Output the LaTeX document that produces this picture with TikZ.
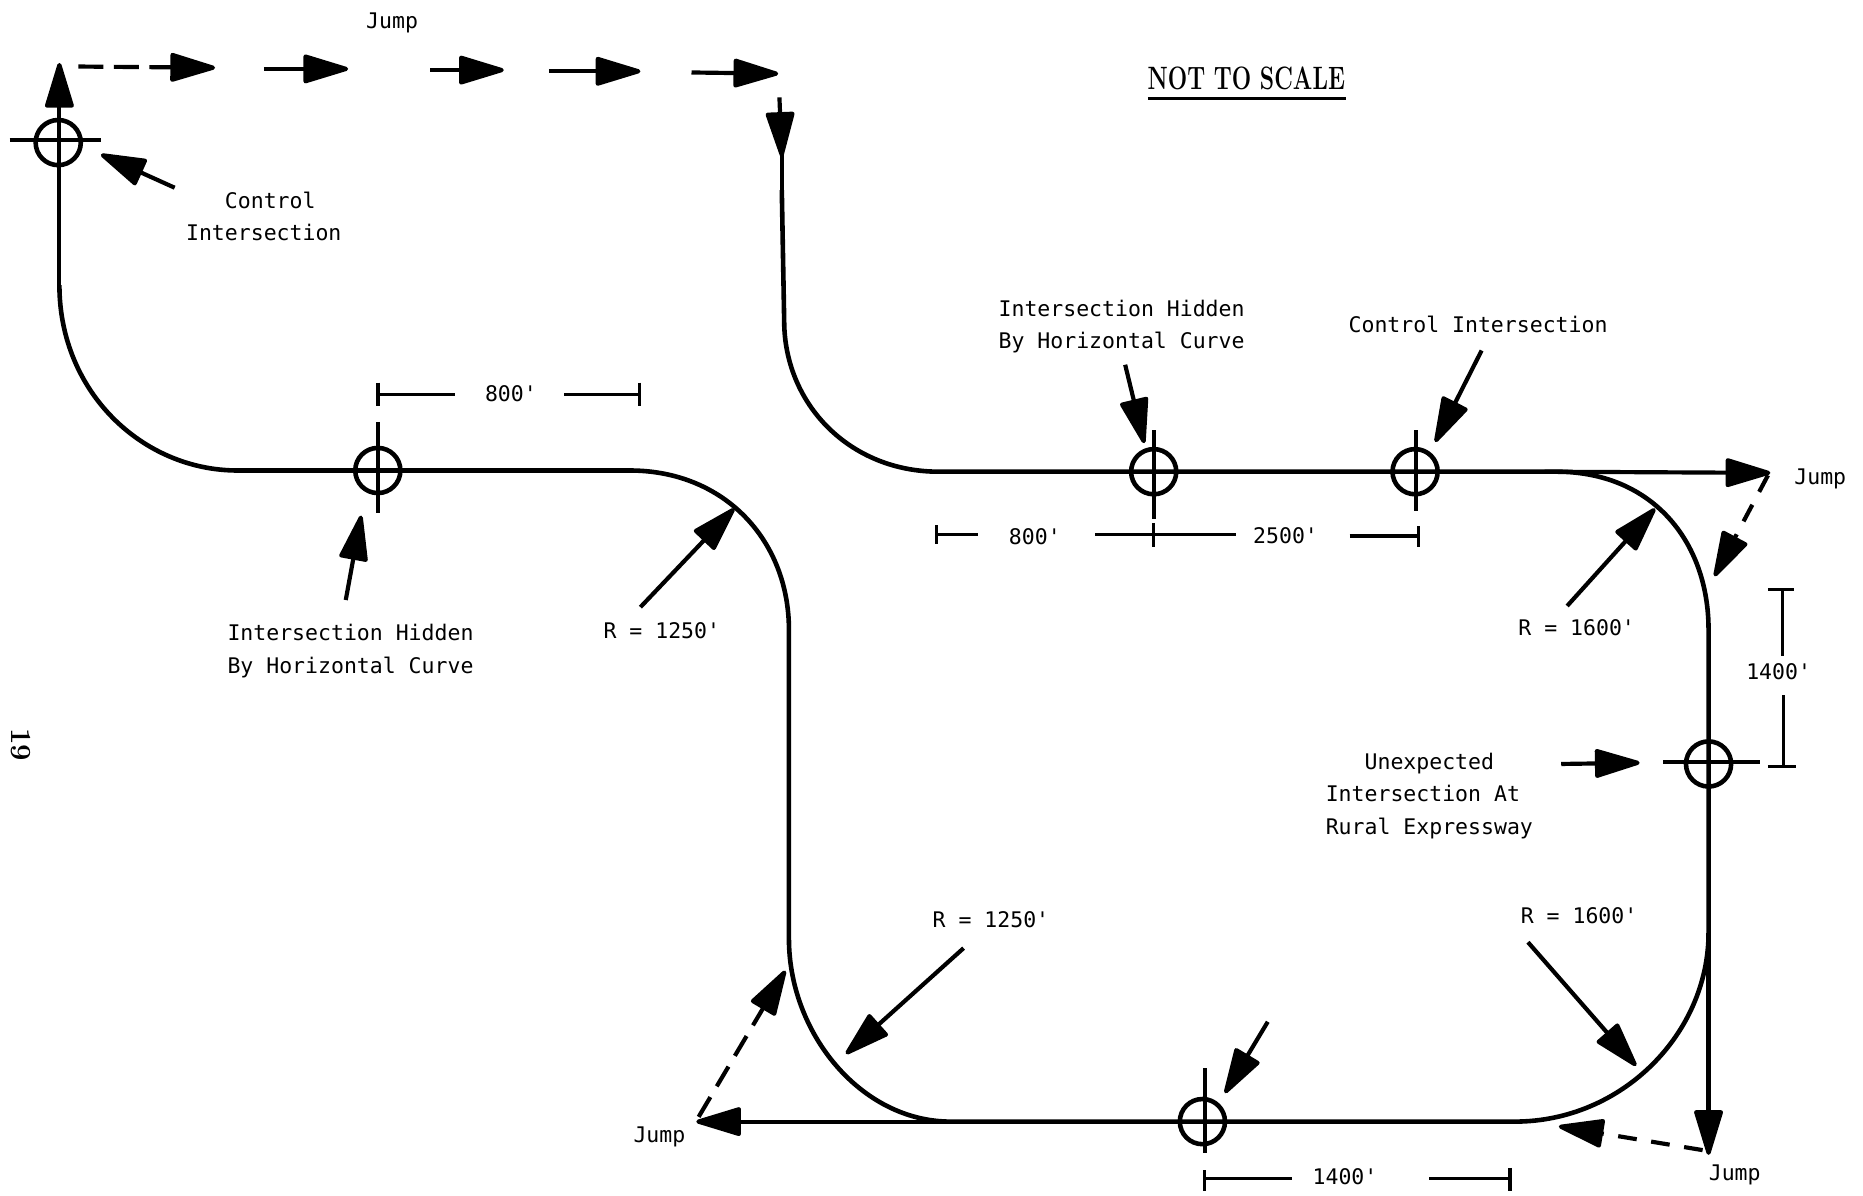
\documentclass[tikz,border=0pt]{standalone}
\usepackage{fontspec}
\setmonofont{DejaVu Sans Mono}
\usetikzlibrary{arrows.meta}
\newlength{\unitlen}
\setlength{\unitlen}{0.02cm}
\tikzset{
	road/.style={line width=2.2pt},
	ptr/.style={line width=2pt, -{Triangle[round,length=24pt,width=14pt]}},
	jumpline/.style={ptr, dashed, dash pattern=on 9pt off 7pt},
	dimline/.style={line width=1.6pt},
	tick/.style={line width=1.9pt},
	xing/.style={circle, draw, line width=2.2pt, minimum size=38\unitlen, inner sep=0pt},
	lab/.style={font=\ttfamily\fontsize{10.3}{10.3}\selectfont, align=center, inner sep=0pt},
}
\begin{document}
\begin{tikzpicture}[x=0.02cm, y=-0.02cm]
	\useasboundingbox (0,0) rectangle (1568,1006);
	% crossings
	\node[xing] (ctrlA) at (49,120) {};
	\node[xing] (hidA) at (318,396) {};
	\node[xing] (hidB) at (971,397) {};
	\node[xing] (ctrlB) at (1191,397) {};
	\node[xing] (unexp) at (1438,643) {};
	\node[xing] (south) at (1012,944) {};
	\draw[tick] (8,118) -- (85,118);
	\draw[tick] (318,355) -- (318,432);
	\draw[tick] (971,362) -- (971,437);
	\draw[tick] (1192,362) -- (1192,430);
	\draw[tick] (1400,641) -- (1481,641);
	\draw[tick] (1014,899) -- (1014,970);
	% road
	\draw[road] (50,240) .. controls (50,330) and (120,396) .. (200,396) -- (530,396) .. controls (610,396) and (664,455) .. (664,530) -- (664,790) .. controls (664,870) and (725,944) .. (800,944) -- (1275,944) .. controls (1365,944) and (1438,870) .. (1438,785) -- (1438,530) .. controls (1438,455) and (1390,397) .. (1310,397) -- (790,397) .. controls (715,397) and (660,340) .. (660,270) -- (658,160);
	\draw[ptr] (50,240) -- (50,53);
	\draw[ptr] (656,82) -- (658,132);
	\draw[road] (658,125) -- (658,160);
	% jump along the top
	\draw[ptr, dashed, dash pattern=on 12pt off 5pt] (66,56) -- (181,57);
	\draw[ptr] (222,58) -- (293,58);
	\draw[ptr] (362,59) -- (424,59);
	\draw[ptr] (462,60) -- (539,60);
	\draw[ptr] (582,61) -- (655,62);
	% jumps
	\draw[ptr] (1300,397) -- (1490,398);
	\draw[jumpline] (1488,400) -- (1443,485);
	\draw[ptr] (1438,785) -- (1438,972);
	\draw[jumpline] (1433,968) -- (1312,948);
	\draw[ptr] (800,944) -- (586,944);
	\draw[jumpline, dash pattern=on 11pt off 6pt] (588,940) -- (661,817);
	% pointers
	\draw[ptr] (147,158) -- (85,130);
	\draw[ptr] (291,505) -- (304,434);
	\draw[ptr] (539,511) -- (618,428);
	\draw[ptr] (947,307) -- (963,373);
	\draw[ptr] (1247,295) -- (1208,372);
	\draw[ptr] (1319,510) -- (1393,428);
	\draw[ptr] (1314,643) -- (1380,642);
	\draw[ptr] (811,798) -- (712,887);
	\draw[ptr] (1067,860) -- (1031,920);
	\draw[ptr] (1286,793) -- (1377,897);
	% dimensions
	\draw[dimline] (318,322) -- (318,342) (318,332) -- (383,332) (475,332) -- (538,332) (538,322) -- (538,342);
	\draw[dimline] (788,442) -- (788,458) (788,450) -- (823,450) (922,450) -- (1040,450) (971,440) -- (971,460) (1136,451) -- (1194,451) (1194,443) -- (1194,460);
	\draw[dimline] (1014,985) -- (1014,1002) (1014,992) -- (1087,992) (1203,992) -- (1271,992) (1271,983) -- (1271,1002);
	\draw[dimline] (1488,496) -- (1510,496) (1500,496) -- (1500,552) (1501,585) -- (1501,645) (1488,645) -- (1512,645);
	% labels
	\node[lab] (jumpTop) at (330,19) {Jump};
	\node[lab] (ctrlTxtA) at (222,182) {\ Control\\[5.2pt]Intersection};
	\node[lab] (hidTxtA) at (295,548) {Intersection Hidden\\[5.2pt]By Horizontal Curve};
	\node[lab] (hidTxtB) at (944,275) {Intersection Hidden\\[5.2pt]By Horizontal Curve};
	\node[lab] (ctrlTxtB) at (1244,273) {Control Intersection};
	\node[lab] (unexpTxt) at (1203,670) {Unexpected\\[5.2pt]Intersection At\hphantom{x}\\[5.2pt]Rural Expressway};
	\node[lab] (radA) at (557,531) {R = 1250'};
	\node[lab] (radB) at (1327,528) {R = 1600'};
	\node[lab] (radC) at (834,774) {R = 1250'};
	\node[lab] (radD) at (1329,771) {R = 1600'};
	\node[lab] (jumpE) at (1532,403) {Jump};
	\node[lab] (jumpS) at (1460,989) {Jump};
	\node[lab] (jumpW) at (555,957) {Jump};
	\node[lab] (dimA) at (430,331) {800'};
	\node[lab] (dimB) at (871,452) {800'};
	\node[lab] (dimC) at (1082,451) {2500'};
	\node[lab] (dimD) at (1132,990) {1400'};
	\node[lab] (dimE) at (1497,565) {1400'};
	\node[lab, font=\rmfamily\bfseries\fontsize{14}{14}\selectfont, rotate=-90] (page) at (18,627) {19};
	\node[lab, font=\rmfamily\bfseries\fontsize{15.5}{15.5}\selectfont, xscale=0.71] (scale) at (1049,66) {NOT TO SCALE};
	\draw[line width=1.3pt] (966,83) -- (1133,83);
\end{tikzpicture}
\end{document}
